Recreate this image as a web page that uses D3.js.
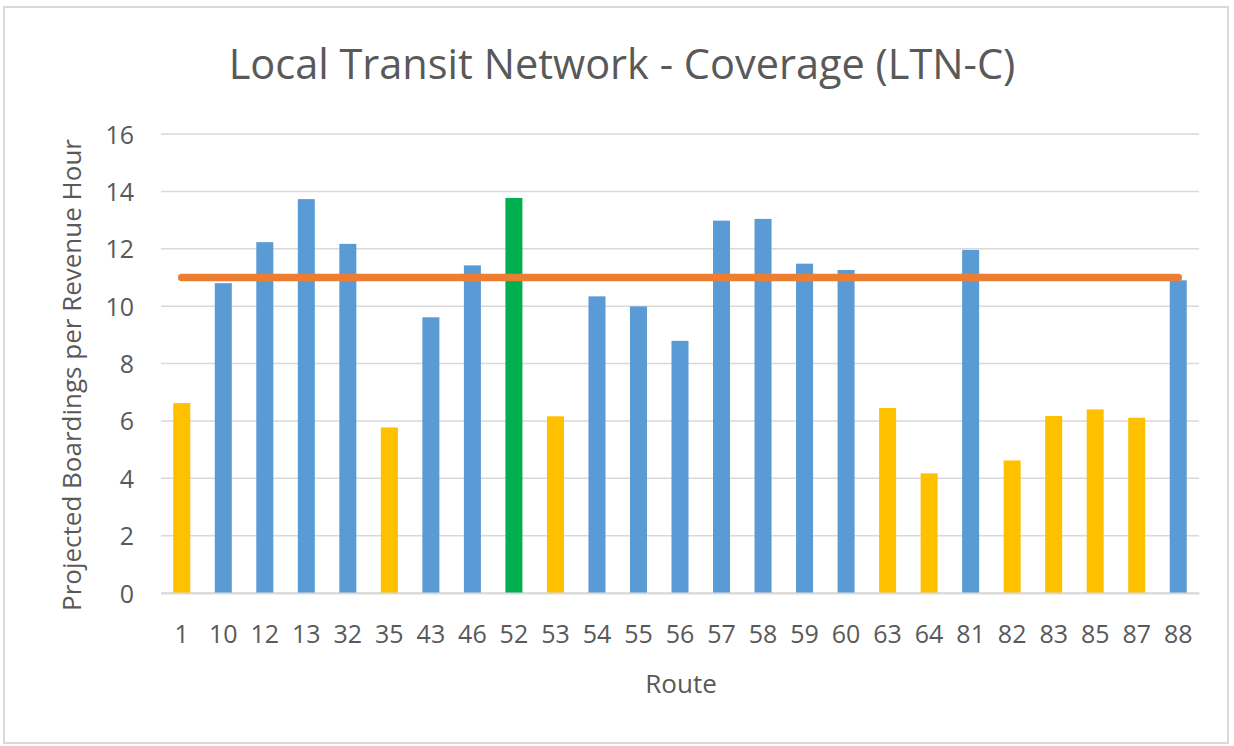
<!DOCTYPE html>
<html lang="en">
<head>
<meta charset="UTF-8">
<title>Local Transit Network - Coverage (LTN-C)</title>
<script src="https://cdn.jsdelivr.net/npm/d3@7"></script>
<style>
  body { margin: 0; background: #fff; }
  svg { display: block; font-family: "Open Sans", "Noto Sans", sans-serif; }
</style>
</head>
<body>
<svg id="chart" width="1234" height="746"></svg>
<script>
// route numbers on the x axis
var routes = ["1","10","12","13","32","35","43","46","52","53","54","55","56","57","58","59","60","63","64","81","82","83","85","87","88"];
// projected boardings per revenue hour
var boardings = [6.62,10.80,12.23,13.73,12.17,5.77,9.61,11.42,13.77,6.16,10.34,9.99,8.79,12.98,13.04,11.48,11.26,6.45,4.17,11.96,4.62,6.17,6.40,6.11,10.90];
// bar colour group per route
var groups = ["y","b","b","b","b","y","b","b","g","y","b","b","b","b","b","b","b","y","y","b","y","y","y","y","b"];
var target = 11;
var yTicks = [0,2,4,6,8,10,12,14,16];

var colors = { b: "#5b9bd5", y: "#ffc000", g: "#00b050" };
var font = "'Open Sans', 'Noto Sans', sans-serif";

var svg = d3.select("#chart");
var plotLeft = 161, plotRight = 1199, plotTop = 134, plotBottom = 593;

// outer frame
svg.append("rect")
  .attr("x", 4).attr("y", 7).attr("width", 1224).attr("height", 736)
  .attr("fill", "#fff").attr("stroke", "#d9d9d9").attr("stroke-width", 2);

var x = d3.scaleBand().domain(routes).range([plotLeft, plotRight]).paddingInner(0.59).paddingOuter(0.295);
var y = d3.scaleLinear().domain([0, 16]).range([plotBottom, plotTop]);

// gridlines
svg.append("g")
  .selectAll("line")
  .data(yTicks)
  .enter()
  .append("line")
  .attr("x1", plotLeft).attr("x2", plotRight)
  .attr("y1", d => y(d)).attr("y2", d => y(d))
  .attr("stroke", "#d9d9d9").attr("stroke-width", 1.5);

// y axis labels
var yAxis = svg.append("g")
  .attr("transform", `translate(${plotLeft},0)`)
  .call(d3.axisLeft(y).tickValues(yTicks).tickSize(0).tickPadding(27));
yAxis.select(".domain").remove();
yAxis.selectAll("text")
  .attr("dy", "0.36em")
  .attr("fill", "#595959")
  .style("font-family", font)
  .style("font-size", "25px");

// bars
svg.append("g")
  .selectAll("rect")
  .data(boardings)
  .enter()
  .append("rect")
  .attr("x", (d, i) => x(routes[i]))
  .attr("y", d => y(d))
  .attr("width", x.bandwidth())
  .attr("height", d => y(0) - y(d))
  .attr("fill", (d, i) => colors[groups[i]]);

// x axis
var xAxis = svg.append("g")
  .attr("transform", `translate(0,${plotBottom})`)
  .call(d3.axisBottom(x).tickSize(0).tickPadding(32));
xAxis.select(".domain").attr("stroke", "#d9d9d9").attr("stroke-width", 2);
xAxis.selectAll("text")
  .attr("fill", "#595959")
  .style("font-family", font)
  .style("font-size", "25px");

// target line
svg.append("line")
  .attr("x1", x(routes[0]) + x.bandwidth() / 2)
  .attr("x2", x(routes[routes.length - 1]) + x.bandwidth() / 2)
  .attr("y1", y(target)).attr("y2", y(target))
  .attr("stroke", "#ed7d31").attr("stroke-width", 7.5)
  .attr("stroke-linecap", "round");

// titles
svg.append("text")
  .attr("x", 622).attr("y", 79)
  .attr("text-anchor", "middle")
  .attr("fill", "#595959")
  .style("font-size", "41.5px")
  .text("Local Transit Network - Coverage (LTN-C)");

svg.append("text")
  .attr("x", 681).attr("y", 693)
  .attr("text-anchor", "middle")
  .attr("fill", "#595959")
  .style("font-size", "26px")
  .text("Route");

svg.append("text")
  .attr("transform", "translate(81,375) rotate(-90)")
  .attr("text-anchor", "middle")
  .attr("fill", "#595959")
  .style("font-size", "26px")
  .text("Projected Boardings per Revenue Hour");
</script>
</body>
</html>
